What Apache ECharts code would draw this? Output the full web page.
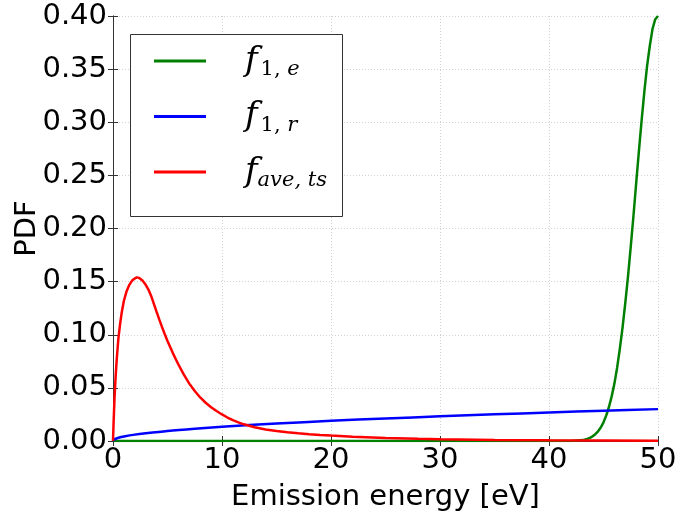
<!DOCTYPE html>
<html>
<head>
<meta charset="utf-8">
<script src="https://cdn.jsdelivr.net/npm/echarts@6/dist/echarts.min.js"></script>
<style>
  html, body { margin: 0; padding: 0; background: #fff; }
  #chart { width: 675px; height: 514px; }
</style>
</head>
<body>
<div id="chart"></div>
<script>
// values: [energy eV, pdf]
var green_f1e = [
    [0, 0], [10, 0], [20, 0], [30, 0], [40, 0], [42, 0], [43, 0.0009], [43.25, 0.0013],
    [43.5, 0.002], [43.75, 0.003], [44, 0.0044], [44.25, 0.0064], [44.5, 0.0091],
    [44.75, 0.0127], [45, 0.0176], [45.25, 0.024], [45.5, 0.032], [45.75, 0.042],
    [46, 0.054], [46.25, 0.069], [46.5, 0.087], [46.75, 0.107], [47, 0.130],
    [47.25, 0.155], [47.5, 0.183], [47.75, 0.212], [48, 0.243], [48.25, 0.273],
    [48.5, 0.302], [48.75, 0.329], [49, 0.353], [49.25, 0.372], [49.5, 0.388],
    [49.75, 0.397], [50, 0.400]
];
var blue_f1r = [
    [0, 0], [0.1, 0.0013], [0.25, 0.0021], [0.5, 0.003], [1, 0.0042], [2, 0.006],
    [3, 0.0073], [5, 0.0095], [7.5, 0.0116], [10, 0.0134], [15, 0.0164], [20, 0.019],
    [25, 0.0212], [30, 0.0232], [35, 0.0251], [40, 0.0268], [45, 0.0285], [50, 0.030]
];
var red_fave = [
    [0, 0], [0.05, 0.016], [0.1, 0.03], [0.15, 0.043], [0.25, 0.062], [0.35, 0.078],
    [0.5, 0.097], [0.65, 0.110], [0.8, 0.121], [1, 0.132], [1.25, 0.141], [1.5, 0.147],
    [1.75, 0.151], [2, 0.153], [2.2, 0.154], [2.4, 0.1535], [2.7, 0.151], [3, 0.147],
    [3.25, 0.1425], [3.5, 0.1365], [3.75, 0.129], [4, 0.1215], [4.25, 0.1142],
    [4.5, 0.1072], [4.75, 0.1005], [5, 0.0942], [5.5, 0.0825], [6, 0.072], [6.5, 0.0625],
    [7, 0.054], [7.5, 0.047], [8, 0.041], [8.5, 0.036], [9, 0.0318], [9.5, 0.0282],
    [10, 0.025], [10.5, 0.0221], [11, 0.0196], [11.5, 0.0175], [12, 0.0157], [13, 0.0129],
    [14, 0.0109], [15, 0.0094], [16, 0.0082], [17, 0.0072], [18, 0.0064], [19, 0.0057],
    [20, 0.0051], [22, 0.0041], [25, 0.0029], [28, 0.0021], [30, 0.0017], [35, 0.001],
    [40, 0.0006], [45, 0.0004], [50, 0.0002]
];
var seriesNames = ['f1e', 'f1r', 'fave'];
var legendLabels = {
    f1e: '{f|f}{n|1, }{i|e}',
    f1r: '{f|f}{n|1, }{i|r}',
    fave: '{f|f}{i|ave, ts}'
};

var chart = echarts.init(document.getElementById('chart'));

var labelFont = { fontFamily: 'DejaVu Sans', fontSize: 29, color: '#000' };
var gridLine = { show: true, lineStyle: { color: '#d2d2d2', type: [1, 2], width: 1 } };
var spine = { show: true, lineStyle: { color: '#333', width: 1 } };
var ticksIn = { show: true, inside: true, length: 5, lineStyle: { color: '#333' } };

var option = {
    animation: false,
    backgroundColor: '#fff',
    grid: { left: 113, right: 17, top: 16, bottom: 73, containLabel: false, outerBoundsMode: 'none' },
    xAxis: [
        {
            type: 'value', min: 0, max: 50, interval: 10, position: 'bottom',
            axisLine: spine, axisTick: ticksIn, splitLine: gridLine,
            axisLabel: Object.assign({ margin: 5 }, labelFont),
            name: 'Emission energy [eV]', nameLocation: 'middle', nameGap: 42,
            nameMoveOverlap: false,
            nameTextStyle: labelFont
        },
        {
            type: 'value', min: 0, max: 50, interval: 10, position: 'top',
            axisLine: spine, axisTick: ticksIn, splitLine: { show: false },
            axisLabel: { show: false }
        }
    ],
    yAxis: [
        {
            type: 'value', min: 0, max: 0.4, interval: 0.05, position: 'left',
            axisLine: spine, axisTick: ticksIn, splitLine: gridLine,
            axisLabel: Object.assign({ margin: 6, formatter: function (v) { return v.toFixed(2); } }, labelFont),
            name: 'PDF', nameLocation: 'middle', nameGap: 71,
            nameMoveOverlap: false,
            nameTextStyle: labelFont
        },
        {
            type: 'value', min: 0, max: 0.4, interval: 0.05, position: 'right',
            axisLine: spine, axisTick: ticksIn, splitLine: { show: false },
            axisLabel: { show: false }
        }
    ],
    graphic: [
        {
            type: 'rect', z: 5,
            shape: { x: 130.5, y: 34.5, width: 212, height: 182 },
            style: { fill: '#fff', stroke: '#333', lineWidth: 1 }
        }
    ],
    legend: {
        z: 10,
        orient: 'vertical',
        left: 154, top: 44,
        padding: 0,
        itemGap: 19,
        itemWidth: 52, itemHeight: 3,
        icon: 'rect',
        data: seriesNames,
        formatter: function (name) { return legendLabels[name]; },
        textStyle: {
            rich: {
                f: { fontFamily: 'DejaVu Serif', fontStyle: 'italic', fontSize: 34, color: '#000', padding: [0, 0, 0, 34] },
                n: { fontFamily: 'DejaVu Serif', fontSize: 21, color: '#000', padding: [18, 0, 0, 3] },
                i: { fontFamily: 'DejaVu Serif', fontStyle: 'italic', fontSize: 21, color: '#000', padding: [18, 0, 0, 0] }
            }
        }
    },
    series: [
        { name: 'f1e', type: 'line', data: green_f1e, showSymbol: false, color: '#008000', lineStyle: { width: 2.5 } },
        { name: 'f1r', type: 'line', data: blue_f1r, showSymbol: false, smooth: 0.3, color: '#0000ff', lineStyle: { width: 2.5 } },
        { name: 'fave', type: 'line', data: red_fave, showSymbol: false, color: '#ff0000', lineStyle: { width: 2.5 } }
    ]
};

chart.setOption(option);
window.addEventListener('resize', function () {
    chart.resize();
});
</script>
</body>
</html>
